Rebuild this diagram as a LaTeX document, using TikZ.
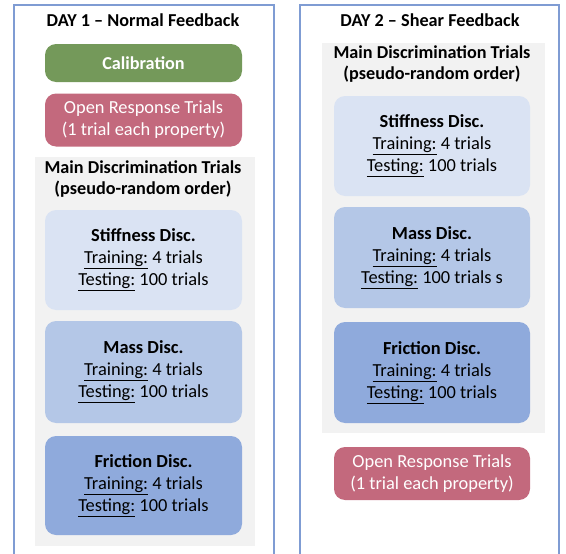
\documentclass[tikz,border=0pt]{standalone}
\usepackage{fontspec}
\setmainfont{Carlito}
\definecolor{framec}{HTML}{7F9CD3}
\definecolor{bgc}{HTML}{F2F2F2}
\definecolor{calc}{HTML}{74995A}
\definecolor{orc}{HTML}{C3697D}
\definecolor{stc}{HTML}{DAE3F3}
\definecolor{mac}{HTML}{B4C7E7}
\definecolor{frc}{HTML}{8FAADC}
\newcommand{\bodyfont}{\fontsize{18.4}{22}\selectfont}
\newcommand{\headfont}{\fontsize{18.2}{21}\selectfont\bfseries}
\tikzset{
  frameline/.style={draw=framec, line width=1.2pt},
  bgbox/.style={fill=bgc, draw=none, inner sep=0pt},
  headtxt/.style={align=center, font=\headfont, inner sep=0pt},
  boxbase/.style={rounded corners=11pt, minimum width=197pt, align=center, inner sep=0pt, font=\bodyfont},
  calibbox/.style={boxbase, fill=calc, text=white, font=\headfont, minimum height=38pt},
  openbox/.style={boxbase, fill=orc, text=white, minimum height=53pt},
  discbox/.style={boxbase, minimum height=100pt},
  stiffbox/.style={discbox, fill=stc},
  massbox/.style={discbox, fill=mac},
  fricbox/.style={discbox, fill=frc},
}
\newcommand{\disc}[2]{\textbf{#1}\\\underline{Training:} 4 trials\\\underline{Testing:} #2}
\begin{document}
\begin{tikzpicture}[x=1pt,y=-1pt]
\useasboundingbox (0,0) rectangle (566,554);
% frames
\draw[frameline] (14,560) -- (14,5) -- (274,5) -- (274,560);
\draw[frameline] (300,560) -- (300,5) -- (559,5) -- (559,560);
% Day 1
\node[headtxt] (title1) at (143,20) {DAY 1 -- Normal Feedback};
\node[calibbox] (calib) at (143.5,63) {Calibration};
\node[openbox] (open1) at (143.5,120) {Open Response Trials\\(1 trial each property)};
\node[bgbox, minimum width=220pt, minimum height=389pt] (bg1) at (145,351.5) {};
\node[headtxt] (head1) at (143,179) {Main Discrimination Trials\\(pseudo-random order)};
\node[stiffbox] (st1) at (143.5,260) {\disc{Stiffness Disc.}{100 trials}};
\node[massbox, minimum height=102pt] (ma1) at (143.5,372) {\disc{Mass Disc.}{100 trials}};
\node[fricbox, minimum height=99pt] (fr1) at (143.5,485.5) {\disc{Friction Disc.}{100 trials}};
% Day 2
\node[headtxt] (title2) at (430,20) {DAY 2 -- Shear Feedback};
\node[bgbox, minimum width=223pt, minimum height=390pt] (bg2) at (433.5,238) {};
\node[headtxt] (head2) at (432,64) {Main Discrimination Trials\\(pseudo-random order)};
\node[stiffbox, minimum width=196pt] (st2) at (432,146) {\disc{Stiffness Disc.}{100 trials}};
\node[massbox, minimum width=196pt, minimum height=101pt] (ma2) at (432,257.5) {\disc{Mass Disc.}{100 trials s}};
\node[fricbox, minimum width=196pt, minimum height=101pt] (fr2) at (432,372.5) {\disc{Friction Disc.}{100 trials}};
\node[openbox, minimum width=196pt] (open2) at (432,473.5) {Open Response Trials\\(1 trial each property)};
\end{tikzpicture}
\end{document}
